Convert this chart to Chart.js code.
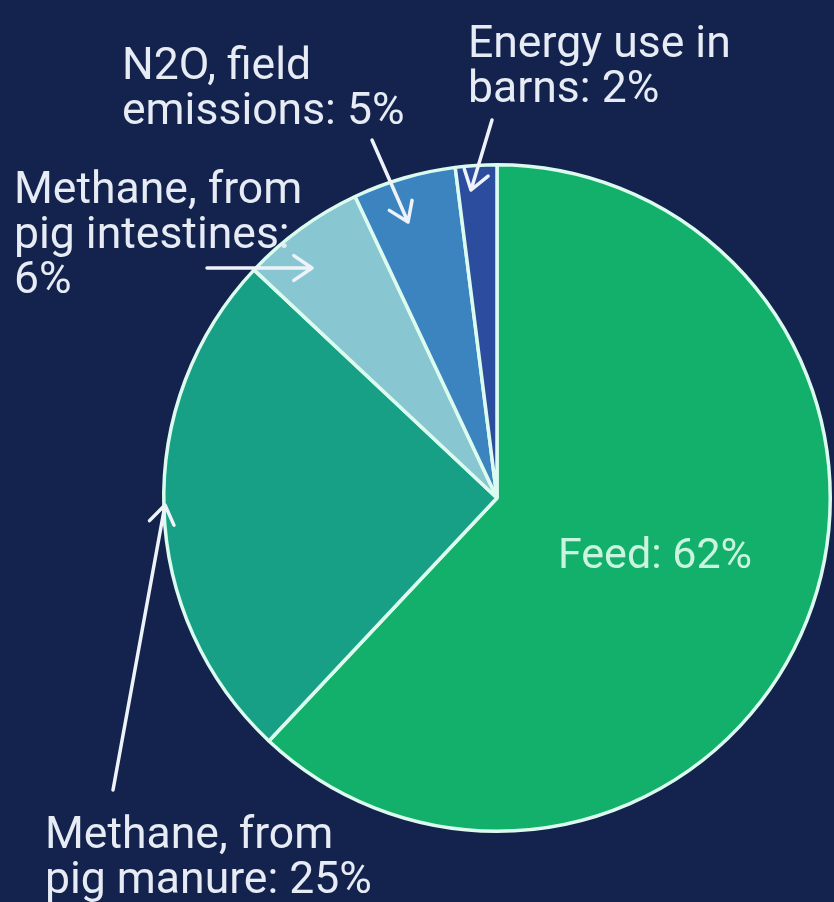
<!DOCTYPE html>
<html>
<head>
<meta charset="utf-8">
<script src="https://cdn.jsdelivr.net/npm/chart.js@4.4.1/dist/chart.umd.min.js"></script>
<style>
  html, body { margin: 0; padding: 0; background: #14234e; }
  #wrap { width: 834px; height: 902px; }
</style>
</head>
<body>
<div id="wrap"><canvas id="pie" width="834" height="902"></canvas></div>
<script>
// data
const categories = ['Feed', 'Methane, from pig manure', 'Methane, from pig intestines', 'N2O, field emissions', 'Energy use in barns'];
const shares = [62, 25, 6, 5, 2];

const sliceColors = ['#13b06b', '#17a085', '#88c7d1', '#3b84c0', '#2c4c9e'];

// callout text: first lines, then the line that gets ": xx%" (or a separate line)
const calloutLines = [
  ['Feed'],
  ['Methane, from', 'pig manure'],
  ['Methane, from', 'pig intestines'],
  ['N2O, field', 'emissions'],
  ['Energy use in', 'barns']
];

// where the callouts sit (text left x, first baseline y) and the arrow ends
const callouts = [
  { inside: true, x: 655, y: 568 },
  { x: 45, y: 848, tail: [113, 790], tip: [165, 505] },
  { x: 14, y: 203, tail: [207, 268], tip: [312, 268], pctOwnLine: true },
  { x: 122, y: 79, tail: [372, 140], tip: [408, 222] },
  { x: 468, y: 57, tail: [492, 120], tip: [471, 190] }
];

function drawArrow(ctx, x1, y1, x2, y2) {
  const a = Math.atan2(y2 - y1, x2 - x1);
  const h = 22;
  ctx.beginPath();
  ctx.moveTo(x1, y1);
  ctx.lineTo(x2, y2);
  ctx.moveTo(x2 - h * Math.cos(a - 0.6), y2 - h * Math.sin(a - 0.6));
  ctx.lineTo(x2, y2);
  ctx.lineTo(x2 - h * Math.cos(a + 0.6), y2 - h * Math.sin(a + 0.6));
  ctx.stroke();
}

const calloutPlugin = {
  id: 'callouts',
  afterDatasetsDraw(chart) {
    const ctx = chart.ctx;
    ctx.save();
    ctx.textBaseline = 'alphabetic';
    callouts.forEach(function(c, i) {
      let lines = calloutLines[i].slice();
      const pct = shares[i] + '%';
      if (c.pctOwnLine) {
        lines[lines.length - 1] += ':';
        lines.push(pct);
      } else {
        lines[lines.length - 1] += ': ' + pct;
      }
      if (c.inside) {
        ctx.font = '43px Roboto';
        ctx.fillStyle = '#c9f4df';
        ctx.textAlign = 'center';
        ctx.fillText(lines[0], c.x, c.y);
        return;
      }
      ctx.font = '44.5px Roboto';
      ctx.fillStyle = '#e6ebf4';
      ctx.textAlign = 'left';
      lines.forEach(function(t, k) {
        ctx.fillText(t, c.x, c.y + k * 45);
      });
      ctx.strokeStyle = '#eef3fa';
      ctx.lineWidth = 3.5;
      ctx.lineCap = 'round';
      ctx.lineJoin = 'round';
      drawArrow(ctx, c.tail[0], c.tail[1], c.tip[0], c.tip[1]);
    });
    ctx.restore();
  }
};

new Chart(document.getElementById('pie'), {
  type: 'pie',
  data: {
    labels: categories,
    datasets: [{
      data: shares,
      backgroundColor: sliceColors,
      borderColor: '#dcfbef',
      borderWidth: 3.5
    }]
  },
  options: {
    responsive: false,
    animation: false,
    layout: { padding: { left: 162, top: 163, right: 2, bottom: 69 } },
    plugins: {
      legend: { display: false },
      tooltip: { enabled: false }
    }
  },
  plugins: [calloutPlugin]
});
</script>
</body>
</html>
